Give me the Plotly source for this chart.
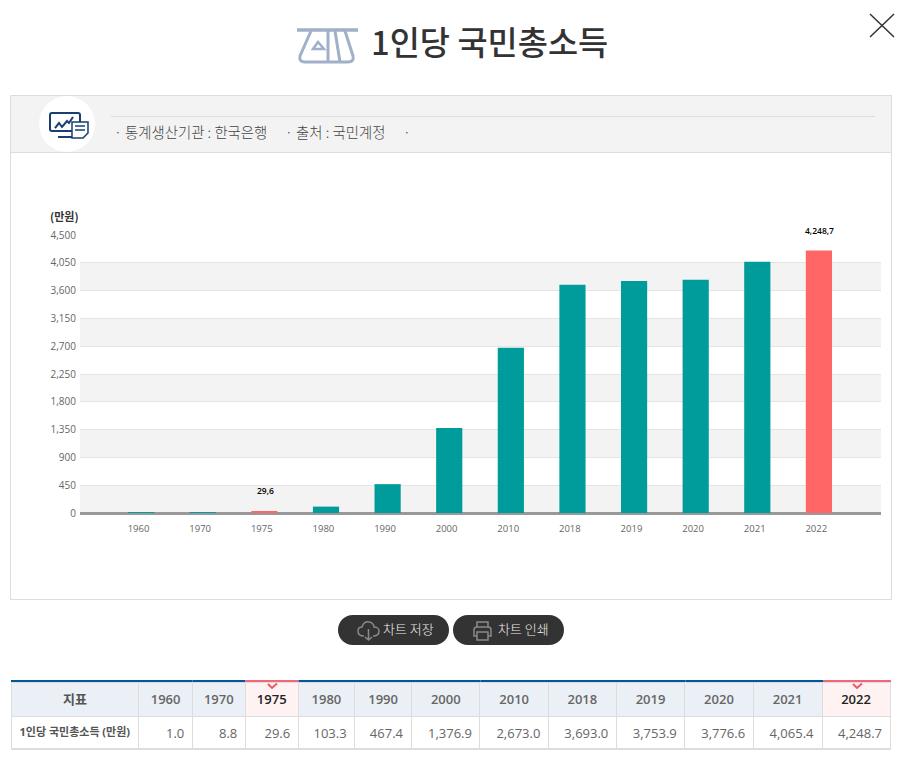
import plotly.graph_objects as go

W, H = 907, 763
KR = "Noto Sans CJK KR"
NUM = "Open Sans, Noto Sans CJK KR"

years = ['1960', '1970', '1975', '1980', '1990', '2000', '2010', '2018', '2019', '2020', '2021', '2022']
income = [1.0, 8.8, 29.6, 103.3, 467.4, 1376.9, 2673.0, 3693.0, 3753.9, 3776.6, 4065.4, 4248.7]
highlight = ['1975', '2022']
y_ticks = [0, 450, 900, 1350, 1800, 2250, 2700, 3150, 3600, 4050, 4500]
col_widths = [128, 53.5, 53, 53, 56.5, 57, 68.5, 68.5, 68, 68.5, 68.5, 69, 68]

TEAL = '#009b9b'
RED = '#ff6666'


def px(x):
    return x / W


def py(y):
    return 1 - y / H


def svg(d):
    # pixel path -> paper path
    out = []
    is_x = True
    for tok in d.split():
        if tok.isalpha():
            out.append(tok)
        elif is_x:
            out.append(str(round(px(float(tok)), 5)))
            is_x = False
        else:
            out.append(str(round(py(float(tok)), 5)))
            is_x = True
    return ' '.join(out)


shapes = []
annotations = []


def rect(x0, y0, x1, y1, fill, line=None, lw=1, layer='below'):
    shapes.append(dict(type='rect', xref='paper', yref='paper', x0=px(x0), x1=px(x1), y0=py(y0), y1=py(y1),
                       fillcolor=fill, line=dict(color=line or 'rgba(0,0,0,0)', width=lw if line else 0), layer=layer))


def path(d, color=None, lw=1, fill='rgba(0,0,0,0)', layer='above'):
    shapes.append(dict(type='path', xref='paper', yref='paper', path=svg(d), fillcolor=fill,
                       line=dict(color=color or 'rgba(0,0,0,0)', width=lw if color else 0), layer=layer))


def label(x, y, text, size=13, color='#444', anchor='left', weight=400, family=KR):
    annotations.append(dict(xref='paper', yref='paper', x=px(x), y=py(y), text=text, showarrow=False, xanchor=anchor,
                            yanchor='middle', font=dict(family=family, size=size, color=color, weight=weight)))


# page furniture
rect(10.5, 95.5, 891.5, 599.5, '#ffffff', '#dddddd')
rect(11, 96, 891, 152, '#f3f3f3')
path('M 11 152.5 L 891 152.5', '#dddddd', layer='below')
path('M 111 116.5 L 875 116.5', '#dddddd', layer='below')
shapes.append(dict(type='circle', xref='paper', yref='paper', x0=px(39), x1=px(95), y0=py(96), y1=py(152),
                   fillcolor='#ffffff', line=dict(width=0), layer='below'))

# title + icon
ICON = '#a0b0c8'
path('M 297 30 L 358 30', ICON, 3.5)
path('M 311 31 L 300 56 C 299 60 301 62 305 62 L 348 62 C 352 62 354 60 353 56 L 345 31', ICON, 3)
path('M 328 31 L 328 62', ICON, 3)
path('M 335 31 L 340 62', ICON, 3)
path('M 318 42 L 313 49 L 324 49 Z', ICON, 2.5)
label(369, 41, '1인당 국민총소득', 32.8, '#333333', weight=500)

# close
path('M 870 14 L 894 37', '#333333', 1.5)
path('M 894 14 L 870 37', '#333333', 1.5)

# monitor icon
NAVY = '#173f72'
path('M 52 113 L 78 113 C 79 113 80 114 80 115 L 80 129 C 80 130 79 131 78 131 L 52 131 C 51 131 50 130 50 129 L 50 115 C 50 114 51 113 52 113 Z', NAVY, 2)
path('M 58 137 L 72 137', NAVY, 2)
path('M 55 128 L 59 123 L 62 127 L 67 121 L 69 123 L 73 117', NAVY, 2)
path('M 72 122 L 88 122 L 88 133 L 83 138 L 72 138 Z', NAVY, 1.5, fill='#ffffff')
path('M 75 126 L 85 126', NAVY, 1.5)
path('M 75 130 L 85 130', NAVY, 1.5)

# info line
label(112, 131.5, '· 통계생산기관 : 한국은행', 14.4, '#444444', weight=300)
label(283, 131.5, '· 출처 : 국민계정', 14.4, '#444444', weight=300)
label(401, 131.5, '·', 14.4, '#444444', weight=300)

# unit
label(48, 216, '(만원)', 11, '#333333', weight=700)

# buttons
for x0, x1 in [(338, 449), (453, 564)]:
    path(f'M {x0 + 15} 615 L {x1 - 15} 615 C {x1 - 6} 615 {x1} 622 {x1} 630 C {x1} 638 {x1 - 6} 645 {x1 - 15} 645 '
         f'L {x0 + 15} 645 C {x0 + 6} 645 {x0} 638 {x0} 630 C {x0} 622 {x0 + 6} 615 {x0 + 15} 615 Z', fill='#333333')
ICON2 = '#8a8a8a'
path('M 364 636 C 360 636 358 634 358 631 C 358 628 360 627 362 627 C 363 623 366 621 369 622 C 372 622 374 625 374 627 '
     'C 377 627 379 629 379 631 C 379 634 377 636 373 636', ICON2, 1.5)
path('M 368.5 629 L 368.5 640 M 365 637 L 368.5 640 L 372 637', ICON2, 1.5)
label(381, 628, '차트 저장', 13, '#eeeeee', weight=300)
path('M 477 627 L 477 622 L 488 622 L 488 627', ICON2, 1.5)
path('M 477 636 L 474 636 L 474 630 C 474 628 475 627 477 627 L 488 627 C 490 627 491 628 491 630 L 491 636 L 488 636', ICON2, 1.5)
path('M 477 632 L 488 632 L 488 640 L 477 640 Z', ICON2, 1.5)
label(496, 628, '차트 인쇄', 13, '#eeeeee', weight=300)

# alternating bands, every other step from the y axis ticks
for lo, hi in zip(y_ticks[0::2], y_ticks[1::2]):
    shapes.append(dict(type='rect', xref='x domain', yref='y', x0=0, x1=1, y0=lo, y1=hi, fillcolor='#f3f3f3',
                       line=dict(width=0), layer='below'))

# value labels on the highlighted bars (sit a little right of the tick, like the bars)
for i, (yr, v) in enumerate(zip(years, income)):
    if yr in highlight:
        annotations.append(dict(x=i, y=v, xref='x', yref='y', xshift=3.5, yshift=20.5, showarrow=False, yanchor='middle',
                                text=f'{v:,.1f}'.replace('.', ','),
                                font=dict(family=NUM, size=8.5, color='#000000', weight=600)))

fig = go.Figure()
fig.add_trace(go.Bar(x=years, y=income, width=0.425, offset=-0.17,
                     marker=dict(color=[RED if y in highlight else TEAL for y in years], line=dict(width=0)),
                     hoverinfo='x+y', showlegend=False))

# table
header_fill = ['#ebf0f7'] + ['#fff2f2' if y in highlight else '#ebf0f7' for y in years]
header_color = ['#555555'] + ['#222222' if y in highlight else '#666666' for y in years]
fig.add_trace(go.Table(
    domain=dict(x=[px(11), px(891)], y=[py(749), py(682)]),
    columnwidth=col_widths,
    header=dict(values=['<b>지표</b>'] + [f'<span>{y}</span>' for y in years], height=33,
                fill_color=header_fill, line=dict(color='#dddddd', width=1), align='center',
                font=dict(family=NUM, size=13, color=header_color, weight=600)),
    cells=dict(values=[['<b>1인당\u00a0국민총소득\u00a0(만원)</b>']] + [[f'<span>{v:,.1f}</span>'] for v in income], height=32,
               fill_color='#ffffff', line=dict(color='#dddddd', width=1),
               align=['center'] + ['right'] * len(years),
               font=dict(family=NUM, size=[11] + [13] * len(years), color=['#555555'] + ['#666666'] * len(years)))))

# table top rule: blue, red over the highlighted columns
edges = [11]
for w in col_widths:
    edges.append(edges[-1] + w)
for i, yr in enumerate([None] + years):
    hot = yr in highlight
    rect(edges[i], 680, edges[i + 1], 682, '#f0687a' if hot else '#00589b', layer='above')
    if hot:
        c = (edges[i] + edges[i + 1]) / 2
        path(f'M {c - 4} 684 L {c} 688 L {c + 5} 683.5', '#f0586a', 2)
rect(11, 748, 891, 750, '#dddddd', layer='above')

fig.update_layout(
    width=W, height=H, autosize=False,
    margin=dict(l=0, r=0, t=0, b=0, autoexpand=False),
    paper_bgcolor='#ffffff', plot_bgcolor='rgba(0,0,0,0)',
    font=dict(family=NUM, color='#666666'),
    shapes=shapes, annotations=annotations,
    xaxis=dict(domain=[px(80), px(881)], type='category', categoryorder='array', categoryarray=years,
               range=[-0.95, 12.05], showgrid=False, showline=False, zeroline=False,
               ticks='outside', ticklen=7, tickcolor='rgba(0,0,0,0)', tickfont=dict(size=9.5, color='#666666')),
    yaxis=dict(domain=[py(513), py(235)], range=[0, 4500], tickvals=y_ticks, tickformat=',',
               showgrid=True, gridcolor='#e4e4e4', gridwidth=1, zeroline=True, zerolinecolor='#999999',
               zerolinewidth=3, showline=False, ticks='outside', ticklen=1, tickcolor='rgba(0,0,0,0)',
               tickfont=dict(size=10, color='#666666')),
)

fig.write_html("out.html", config=dict(displayModeBar=False),
               post_script="document.body.style.margin='0';document.documentElement.style.overflow='hidden';")
